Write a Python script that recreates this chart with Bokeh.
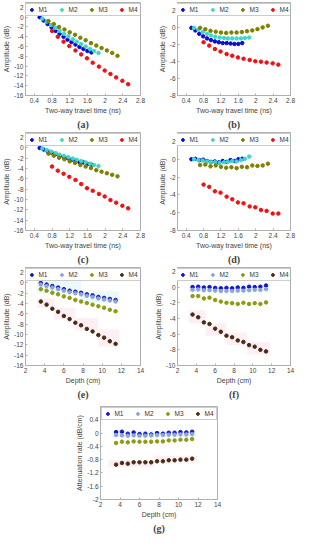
from bokeh.plotting import figure
from bokeh.layouts import column, row, Spacer
from bokeh.models import Legend, LegendItem, Range1d, FixedTicker, CustomJSTickFormatter
from bokeh.embed import file_html
from bokeh.resources import INLINE

labels = ["M1", "M2", "M3", "M4"]
depth = [3.6, 4.2, 4.8, 5.4, 6.0, 6.6, 7.2, 7.8, 8.4, 9.0, 9.6, 10.2, 10.8, 11.4]
t_m1 = [0.52, 0.61, 0.70, 0.79, 0.88, 0.97, 1.06, 1.15, 1.24, 1.33, 1.42, 1.51, 1.60, 1.69]
t_m2 = [0.58, 0.68, 0.78, 0.88, 0.97, 1.07, 1.17, 1.27, 1.36, 1.46, 1.56, 1.66, 1.75, 1.85]
t_m3 = [0.72, 0.84, 0.96, 1.08, 1.20, 1.32, 1.44, 1.56, 1.68, 1.80, 1.92, 2.04, 2.16, 2.28]
t_m4 = [0.80, 0.93, 1.06, 1.19, 1.33, 1.46, 1.59, 1.72, 1.86, 1.99, 2.12, 2.25, 2.39, 2.52]

a_m1 = [0, -0.7, -1.4, -2.1, -2.8, -3.4, -4.0, -4.6, -5.1, -5.6, -6.1, -6.5, -6.9, -7.2]
a_m2 = [-0.3, -0.9, -1.6, -2.2, -2.8, -3.4, -3.9, -4.5, -5.0, -5.5, -6.0, -6.5, -6.9, -7.3]
a_m3 = [-0.8, -1.4, -2.0, -2.5, -3.1, -3.6, -4.2, -4.7, -5.3, -5.8, -6.3, -6.8, -7.3, -7.9]
a_m4 = [-2.8, -4.0, -5.0, -5.9, -6.8, -7.6, -8.4, -9.3, -10.1, -10.9, -11.6, -12.3, -13.0, -13.7]

b_m1 = [0, -0.3, -0.7, -1.0, -1.25, -1.45, -1.6, -1.7, -1.8, -1.8, -1.85, -1.9, -1.9, -1.8]
b_m2 = [0, -0.2, -0.5, -0.7, -0.9, -1.05, -1.15, -1.2, -1.25, -1.25, -1.25, -1.25, -1.2, -1.15]
b_m3 = [0, -0.15, -0.35, -0.45, -0.55, -0.6, -0.55, -0.55, -0.5, -0.4, -0.3, -0.15, 0.05, 0.25]
b_m4 = [-1.7, -2.1, -2.5, -2.8, -3.1, -3.3, -3.5, -3.65, -3.8, -3.95, -4.0, -4.1, -4.2, -4.35]

c_m1 = [0, -0.3, -0.65, -0.9, -1.15, -1.5, -1.7, -1.95, -2.3, -2.5, -2.75, -2.8, -3.1, -3.25]
c_m2 = [-0.1, -0.4, -0.7, -1.0, -1.3, -1.55, -1.8, -2.05, -2.3, -2.55, -2.8, -3.05, -3.3, -3.5]
c_m3 = [-1.1, -1.5, -1.9, -2.2, -2.6, -2.9, -3.3, -3.6, -3.9, -4.3, -4.6, -4.9, -5.2, -5.5]
c_m4 = [-3.6, -4.4, -5.0, -5.6, -6.2, -7.0, -7.8, -8.3, -8.9, -9.4, -10.1, -10.6, -11.2, -11.7]

d_m1 = [0, 0.05, -0.1, -0.05, -0.2, -0.3, -0.25, -0.35, -0.2, -0.3, -0.1, -0.2, 0, 0.05]
d_m2 = [0, -0.1, -0.15, -0.25, -0.35, -0.3, -0.4, -0.35, -0.3, -0.2, -0.25, -0.1, 0.05, 0.3]
d_m3 = [-0.65, -0.6, -0.8, -0.7, -0.85, -0.95, -0.9, -1.0, -0.85, -0.9, -0.7, -0.75, -0.7, -0.5]
d_m4 = [-2.85, -3.1, -3.6, -3.75, -4.2, -4.5, -4.85, -4.95, -5.3, -5.4, -5.7, -5.8, -6.1, -6.1]

e_m1 = [0, -0.3, -0.6, -0.9, -1.2, -1.5, -1.7, -1.9, -2.2, -2.4, -2.7, -2.9, -3.1, -3.3]
e_m2 = [-0.3, -0.6, -0.9, -1.2, -1.5, -1.8, -2.0, -2.2, -2.5, -2.7, -3.0, -3.2, -3.4, -3.6]
e_m3 = [-1.2, -1.5, -1.9, -2.2, -2.6, -2.9, -3.3, -3.6, -3.9, -4.2, -4.5, -4.8, -5.2, -5.5]
e_m4 = [-3.6, -4.2, -5.0, -5.6, -6.4, -7.0, -7.7, -8.2, -8.9, -9.4, -10.1, -10.6, -11.3, -11.8]

f_m1 = [0, 0.05, -0.05, 0, -0.1, -0.15, -0.1, -0.15, -0.05, -0.1, 0.05, 0, 0.05, 0.2]
f_m2 = [-0.35, -0.3, -0.4, -0.4, -0.45, -0.5, -0.5, -0.5, -0.45, -0.45, -0.4, -0.35, -0.35, -0.25]
f_m3 = [-1.15, -1.15, -1.45, -1.35, -1.65, -1.85, -2.0, -2.05, -2.15, -2.0, -2.15, -2.05, -2.15, -1.95]
f_m4 = [-3.5, -3.85, -4.5, -4.7, -5.3, -5.7, -6.2, -6.4, -6.8, -7.0, -7.4, -7.6, -8.0, -8.2]

g_m1 = [0.03, 0.04, -0.02, 0.02, -0.03, -0.02, -0.04, 0.0, -0.02, 0.01, 0.01, 0.03, 0.02, 0.04]
g_m2 = [-0.06, -0.07, -0.08, -0.07, -0.08, -0.08, -0.07, -0.06, -0.06, -0.05, -0.05, -0.04, -0.04, -0.03]
g_m3 = [-0.3, -0.26, -0.28, -0.25, -0.26, -0.26, -0.26, -0.25, -0.25, -0.22, -0.22, -0.2, -0.2, -0.18]
g_m4 = [-0.95, -0.9, -0.92, -0.88, -0.88, -0.88, -0.88, -0.85, -0.85, -0.82, -0.82, -0.8, -0.8, -0.77]

# shaded bands (left, right, bottom, top)
e_band_m4 = ([3.2, 5.0, 7.2, 9.6], [5.0, 7.2, 9.6, 11.8], [-4.8, -7.0, -9.2, -12.3], [-3.0, -4.8, -6.8, -9.0])
e_band_m12 = ([3.2, 7.8], [7.8, 11.8], [-2.0, -3.8], [0.4, -1.6])
f_band_m4 = ([3.2, 5.0, 7.2, 9.4], [5.0, 7.2, 9.4, 11.8], [-4.6, -6.2, -7.4, -8.6], [-3.0, -4.6, -5.8, -7.0])
f_band_m12 = ([3.2], [11.8], [-0.6], [0.3])
g_band_m4 = ([2.8, 7.5], [7.5, 11.9], [-1.02, -0.88], [-0.82, -0.68])
g_band_m12 = ([3.2], [11.8], [-0.12], [0.06])

time_ticks = [0.4, 0.8, 1.2, 1.6, 2.0, 2.4, 2.8]
depth_ticks = [2, 4, 6, 8, 10, 12, 14]

cols_time = ["#0a0ad0", "#3fd6c6", "#7f7f00", "#f20f0f"]
cols_depth = ["#1414c8", "#8ea6d6", "#8c9c10", "#4a2a12"]

fmt = CustomJSTickFormatter(code="return String(Math.round(tick*10)/10);")
SANS = "Liberation Sans"


def panel(xs, ys, colors, xr, yr, xticks, yticks, xlabel, ylabel, cap, w, h,
          bl, bt, bands=None):
    p = figure(width=w, height=h, output_backend="svg", toolbar_location=None,
               x_range=Range1d(*xr), y_range=Range1d(*yr),
               min_border_left=bl, min_border_right=6, min_border_top=bt,
               min_border_bottom=2)
    p.grid.visible = False
    p.outline_line_color = "#b0b0b0"
    p.background_fill_color = "white"
    p.border_fill_color = "white"
    for ax, ticks, lab in ((p.xaxis[0], xticks, xlabel), (p.yaxis[0], yticks, ylabel)):
        ax.ticker = FixedTicker(ticks=ticks)
        ax.formatter = fmt
        ax.axis_label = lab
        ax.axis_label_text_font = SANS
        ax.axis_label_text_font_size = "7px"
        ax.axis_label_text_font_style = "normal"
        ax.axis_label_text_color = "#444444"
        ax.axis_label_standoff = 1
        ax.major_label_text_font = SANS
        ax.major_label_text_font_size = "6.5px"
        ax.major_label_text_color = "#444444"
        ax.major_label_standoff = 2
        ax.axis_line_color = "#b0b0b0"
        ax.major_tick_line_color = "#b0b0b0"
        ax.major_tick_in = 2
        ax.major_tick_out = 0
        ax.minor_tick_line_color = None
    if bands:
        for (l, r, b, t), fc in bands:
            p.quad(left=l, right=r, bottom=b, top=t, fill_color=fc,
                   fill_alpha=0.5, line_color=None)
    items = []
    for x, y, c, lab in zip(xs, ys, colors, labels):
        rr = p.scatter(x, y, size=3.5, marker="circle", fill_color=c, line_color=c)
        items.append(LegendItem(label=lab, renderers=[rr]))
    leg = Legend(items=items, orientation="horizontal", location="top_center",
                 label_text_font=SANS, label_text_font_size="6.5px",
                 label_text_color="#333333", label_height=7, label_width=8,
                 label_standoff=4, glyph_width=7, glyph_height=7, spacing=10,
                 padding=2, margin=1, border_line_color="#999999",
                 background_fill_alpha=1.0)
    p.add_layout(leg)
    p.title.text = cap
    p.title_location = "below"
    p.title.align = "center"
    p.title.text_font = "Liberation Serif"
    p.title.text_font_size = "10px"
    p.title.text_font_style = "bold"
    p.title.standoff = 1
    return p


TT = "Two-way travel time (ns)"
DP = "Depth (cm)"
AMP = "Amplitude (dB)"
times = [t_m1, t_m2, t_m3, t_m4]
deps = [depth, depth, depth, depth]

pa = panel(times, [a_m1, a_m2, a_m3, a_m4], cols_time, (0.2, 2.8), (-16, 3),
           time_ticks, list(range(-16, 3, 2)), TT, AMP, "(a)", 146, 130, 22, 2)
pb = panel(times, [b_m1, b_m2, b_m3, b_m4], cols_time, (0.2, 2.8), (-8, 3),
           time_ticks, list(range(-8, 3, 2)), TT, AMP, "(b)", 150, 130, 31, 2)
pc = panel(times, [c_m1, c_m2, c_m3, c_m4], cols_time, (0.2, 2.8), (-16, 3),
           time_ticks, list(range(-16, 3, 2)), TT, AMP, "(c)", 146, 135, 22, 2)
pd = panel(times, [d_m1, d_m2, d_m3, d_m4], cols_time, (0.2, 2.8), (-8, 3),
           time_ticks, list(range(-8, 3, 2)), TT, AMP, "(d)", 150, 135, 31, 2)
pe = panel(deps, [e_m1, e_m2, e_m3, e_m4], cols_depth, (2, 14), (-16, 3),
           depth_ticks, list(range(-16, 3, 2)), DP, AMP, "(e)", 146, 135, 22, 2,
           bands=[(e_band_m12, "#d8f4f6"), (e_band_m4, "#fbdfe8")])
pf = panel(deps, [f_m1, f_m2, f_m3, f_m4], cols_depth, (2, 14), (-10, 2.5),
           depth_ticks, list(range(-10, 3, 2)), DP, AMP, "(f)", 150, 135, 31, 2,
           bands=[(f_band_m12, "#d8f4f6"), (f_band_m4, "#fbdfe8")])
pg = panel(deps, [g_m1, g_m2, g_m3, g_m4], cols_depth, (2, 14), (-2, 0.8),
           depth_ticks, [-2, -1.6, -1.2, -0.8, -0.4, 0, 0.4], DP,
           "Attenuation rate (dB/cm)", "(g)", 150, 134, 24, 6,
           bands=[(g_band_m12, "#d8f4f6"), (g_band_m4, "#fbdfe8")])

layout = column(row(pa, pb), row(pc, pd), row(pe, pf), row(Spacer(width=73, height=134), pg))

open("out.html", "w").write(file_html(layout, INLINE))
